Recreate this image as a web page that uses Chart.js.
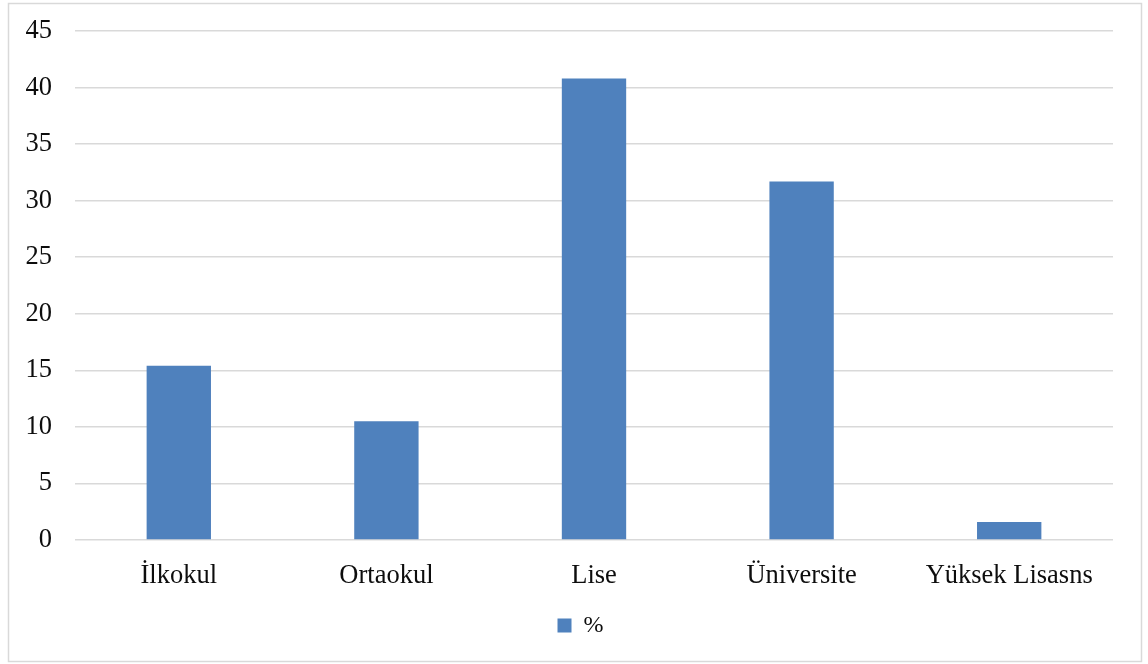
<!DOCTYPE html>
<html>
<head>
<meta charset="utf-8">
<script src="https://cdn.jsdelivr.net/npm/chart.js@4.4.1/dist/chart.umd.min.js"></script>
<style>
html,body{margin:0;padding:0;background:#fff;}
#wrap{position:absolute;left:0;top:0;width:1148px;height:664px;}
</style>
</head>
<body>
<div id="wrap"><canvas id="c" width="1148" height="664"></canvas></div>
<script>
const categories = ['İlkokul', 'Ortaokul', 'Lise', 'Üniversite', 'Yüksek Lisasns'];
const seriesName = '%';
const values = [15.4, 10.5, 40.8, 31.7, 1.6];
const yTicks = [0, 5, 10, 15, 20, 25, 30, 35, 40, 45];

const FONT = "'Liberation Serif', 'Times New Roman', serif";

const borderPlugin = {
  id: 'outerBorder',
  beforeDraw(chart) {
    const ctx = chart.ctx;
    ctx.save();
    ctx.fillStyle = '#ffffff';
    ctx.fillRect(0, 0, chart.width, chart.height);
    ctx.strokeStyle = '#d9d9d9';
    ctx.lineWidth = 1.5;
    ctx.strokeRect(8.5, 3.5, 1133, 658);
    ctx.restore();
  },
  afterLayout(chart) {
    if (chart.legend) {
      chart.legend.left += 24;
      chart.legend.right += 24;
    }
  }
};

new Chart(document.getElementById('c'), {
  type: 'bar',
  data: {
    labels: categories,
    datasets: [{
      label: seriesName,
      data: values,
      backgroundColor: '#4f81bd',
      borderWidth: 0,
      barPercentage: 0.31,
      categoryPercentage: 1.0
    }]
  },
  options: {
    responsive: false,
    animation: false,
    devicePixelRatio: 1,
    layout: { padding: { left: 0, right: 35, top: 31, bottom: 16.5 } },
    plugins: {
      legend: {
        display: true,
        position: 'bottom',
        labels: {
          boxWidth: 14,
          boxHeight: 14,
          padding: 10,
          color: '#0d0d0d',
          font: { family: FONT, size: 24 }
        }
      },
      tooltip: { enabled: false }
    },
    scales: {
      x: {
        grid: { display: false, drawTicks: false },
        border: { display: false },
        ticks: {
          color: '#0d0d0d',
          padding: 20,
          maxRotation: 0,
          autoSkip: false,
          font: { family: FONT, size: 26.5 }
        },
        afterFit(scale) { scale.height = 63.5; }
      },
      y: {
        min: 0,
        max: 45,
        afterBuildTicks(scale) { scale.ticks = yTicks.map(v => ({ value: v })); },
        grid: { color: '#d9d9d9', lineWidth: 1.5, drawTicks: false },
        border: { display: false },
        ticks: {
          color: '#0d0d0d',
          padding: 23,
          font: { family: FONT, size: 26.5 }
        },
        afterFit(scale) { scale.width = 75; scale.paddingTop = 0; scale.paddingBottom = 0; }
      }
    }
  },
  plugins: [borderPlugin]
});
</script>
</body>
</html>
